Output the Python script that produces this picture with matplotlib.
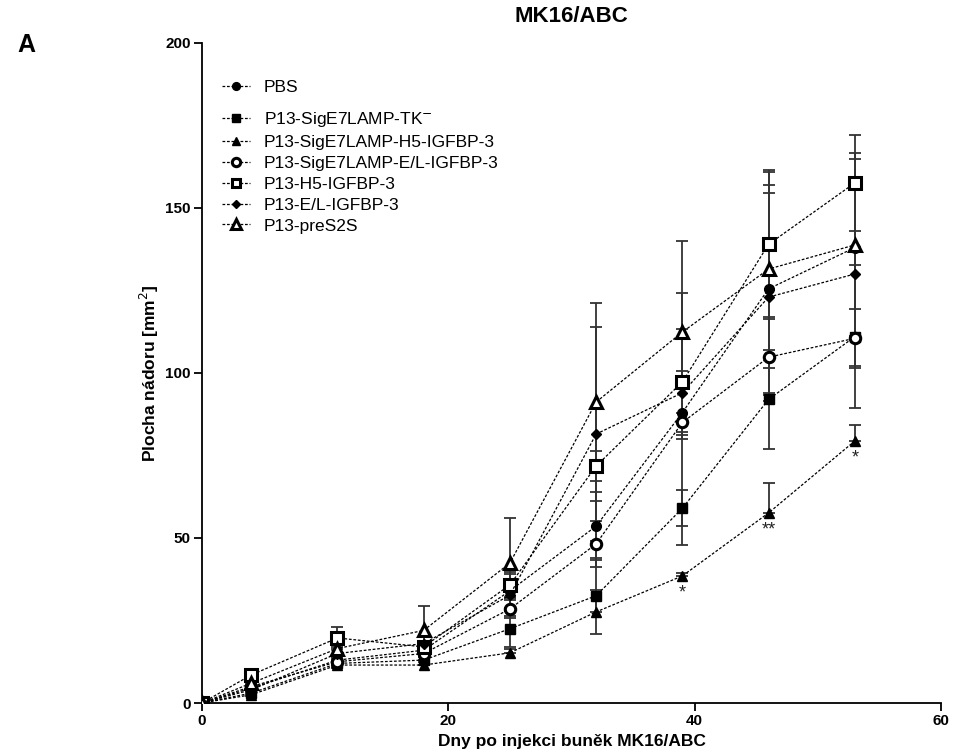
import numpy as np
import matplotlib
matplotlib.use("Agg")
import matplotlib.pyplot as plt

plt.rcParams['font.family'] = ['Liberation Sans', 'DejaVu Sans']

# dny po injekci
dny = [0, 4, 11, 18, 25, 32, 39, 46, 53]

# průměrná plocha nádoru [mm2] a SEM pro jednotlivé skupiny
pbs = [0, 4.5, 13, 16, 34, 53.6, 88, 125.5, 138]
pbs_sem = [0, 1, 1.5, 2, 2, 10.4, 8, 31.5, 26.8]

tk = [0, 3, 12, 13, 22.5, 32.5, 59, 92, 111]
tk_sem = [0, 0.8, 1.5, 1.5, 5.5, 11.5, 5.5, 15, 21.6]

sig_h5 = [0, 2.5, 11.5, 11.5, 15.2, 27.6, 38.5, 57.6, 79.4]
sig_h5_sem = [0, 0.8, 1.5, 1, 1.2, 6.7, 1, 9, 4.8]

sig_el = [0, 5, 12.5, 15, 28.5, 48.2, 85, 104.8, 110.5]
sig_el_sem = [0, 1, 1.5, 2, 2.7, 7, 3, 11.5, 9]

h5 = [0, 8.5, 19.7, 17, 35.8, 71.8, 97.3, 139, 157.6]
h5_sem = [0, 1, 3.3, 3, 3.9, 4.5, 16, 22, 14.6]

el = [0, 4, 15, 18, 32.7, 81.5, 94, 123, 130]
el_sem = [0, 1, 2, 2, 6.3, 32.5, 46, 31.5, 28]

pres2s = [0, 6, 16.5, 22, 42.4, 91.2, 112.4, 131.5, 138.8]
pres2s_sem = [0, 1.5, 2, 7.4, 13.6, 30, 11.8, 30, 27.8]

nazvy = ["PBS", "P13-SigE7LAMP-TK$^{-}$", "P13-SigE7LAMP-H5-IGFBP-3",
         "P13-SigE7LAMP-E/L-IGFBP-3", "P13-H5-IGFBP-3", "P13-E/L-IGFBP-3",
         "P13-preS2S"]

# hvězdičky pro významnost (skupina P13-SigE7LAMP-H5-IGFBP-3)
hvezdy_dny = [39, 46, 53]
hvezdy = ["*", "**", "*"]

# (průměr, SEM, jen chyba nahoru, styl značky)
skupiny = [
    (pbs, pbs_sem, False, dict(marker='o', ms=7, mfc='black')),
    (tk, tk_sem, False, dict(marker='s', ms=7, mfc='black')),
    (sig_h5, sig_h5_sem, True, dict(marker='^', ms=7.5, mfc='black')),
    (sig_el, sig_el_sem, False, dict(marker='o', ms=7.5, mfc='white', mew=2.2)),
    (h5, h5_sem, False, dict(marker='s', ms=8, mfc='white', mew=2.2)),
    (el, el_sem, False, dict(marker='D', ms=5.5, mfc='black')),
    (pres2s, pres2s_sem, False, dict(marker='^', ms=9, mfc='white', mew=2.2)),
]

fig = plt.figure(figsize=(9.54, 7.53), dpi=100)
ax = fig.add_axes([0.2117, 0.0664, 0.7747, 0.8765])

handles = []
for (y, sem, nahoru, styl), nazev in zip(skupiny, nazvy):
    sem = np.array(sem)
    yerr = [np.zeros_like(sem), sem] if nahoru else sem
    ax.errorbar(dny, y, yerr=yerr, fmt='none', ecolor='#333333',
                elinewidth=1.3, capsize=4.5, capthick=1.3, zorder=2)
    line, = ax.plot(dny, y, color='black', lw=0.9, dashes=(2.2, 1.4),
                    mec='black', label=nazev, zorder=3, **styl)
    handles.append(line)

for d, t in zip(hvezdy_dny, hvezdy):
    i = dny.index(d)
    ax.annotate(t, (d, sig_h5[i]), xytext=(0, -12), textcoords='offset points',
                ha='center', va='center', fontsize=13, color='#222222')

ax.set_xlim(0, 60)
ax.set_ylim(0, 200)
ax.set_xticks([0, 20, 40, 60])
ax.set_yticks([0, 50, 100, 150, 200])
for s in ['top', 'right']:
    ax.spines[s].set_visible(False)
for s in ['left', 'bottom']:
    ax.spines[s].set_linewidth(1.3)
ax.tick_params(direction='out', length=6, width=1.3, labelsize=11, pad=2)
for lab in ax.get_xticklabels() + ax.get_yticklabels():
    lab.set_fontweight('bold')

ax.set_xlabel("Dny po injekci buněk MK16/ABC", fontsize=12.5, fontweight='bold', labelpad=4)
ax.set_ylabel("Plocha nádoru [mm$^{2}$]", fontsize=12.5, fontweight='bold', labelpad=3)

fig.text(0.599, 0.978, "MK16/ABC", ha='center', va='center', fontsize=16, fontweight='bold')
fig.text(0.028, 0.94, "A", ha='center', va='center', fontsize=18, fontweight='bold')

# legenda: PBS zvlášť, ostatní o kus níž
leg_kw = dict(loc='upper left', frameon=False, fontsize=12.5, handlelength=1.6,
              handletextpad=0.8, labelspacing=0.33, markerscale=0.8)
leg1 = ax.legend(handles=handles[:1], bbox_to_anchor=(0.006, 0.968), **leg_kw)
ax.add_artist(leg1)
ax.legend(handles=handles[1:], bbox_to_anchor=(0.006, 0.922), **leg_kw)

fig.savefig("out.png", dpi=100)
